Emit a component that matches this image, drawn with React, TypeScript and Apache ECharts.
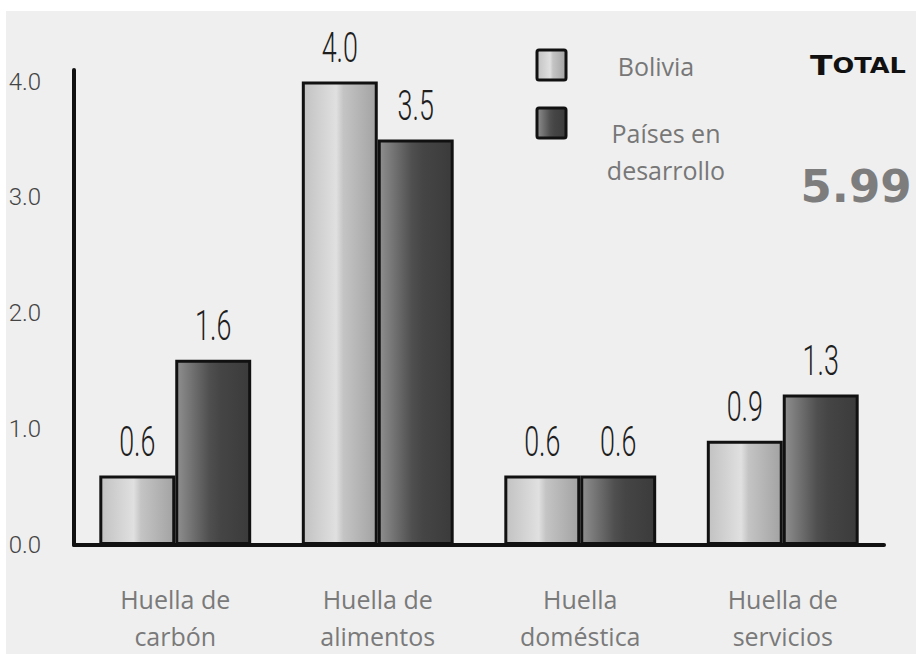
import React, { useEffect, useRef } from "react";
import * as echarts from "echarts";

const categories = ["Huella de\ncarbón", "Huella de\nalimentos", "Huella\ndoméstica", "Huella de\nservicios"];
const boliviaValues = [0.6, 4.0, 0.6, 0.9];
const developingValues = [1.6, 3.5, 0.6, 1.3];
const seriesNames = ["Bolivia", "Países en desarrollo"];
const yTicks = [0, 1, 2, 3, 4];
const totalTitle = ["T", "OTAL"];
const totalLabel = "5.99";

const thin = "Roboto, 'Noto Sans', sans-serif";
const sans = "'Open Sans', 'Noto Sans', sans-serif";
const CAT_GAP = 0.25;

const lightGrad = () =>
  new echarts.graphic.LinearGradient(0, 0, 1, 0, [
    { offset: 0, color: "#c2c2c2" },
    { offset: 0.45, color: "#e0e0e0" },
    { offset: 0.55, color: "#c4c4c4" },
    { offset: 1, color: "#a3a3a3" },
  ]);
const darkGrad = () =>
  new echarts.graphic.LinearGradient(0, 0, 1, 0, [
    { offset: 0, color: "#8f8f8f" },
    { offset: 0.45, color: "#4f4f4f" },
    { offset: 0.6, color: "#454545" },
    { offset: 1, color: "#3b3b3b" },
  ]);

function labelSeries(values: number[], side: number) {
  return {
    type: "custom",
    z: 5,
    silent: true,
    clip: false,
    data: values.map((v, i) => [i, v]),
    renderItem: (_params: any, api: any) => {
      const c = api.coord([api.value(0), api.value(1)]);
      const band = api.size([1, 0])[0];
      const barW = (band * (1 - CAT_GAP)) / 2;
      return {
        type: "text",
        x: c[0] + side * barW / 2,
        y: c[1] - 34,
        scaleX: 0.64,
        style: {
          text: Number(api.value(1)).toFixed(1),
          fontFamily: thin,
          fontWeight: 300,
          fontSize: 42,
          fill: "#1e1e1e",
          align: "center",
          verticalAlign: "middle",
        },
      };
    },
  };
}

export default function App() {
  const ref = useRef<HTMLDivElement>(null);
  useEffect(() => {
    document.body.style.margin = "0";
    if (!ref.current) return;
    const chart = echarts.init(ref.current, null, { renderer: "svg" });
    chart.setOption({
      animation: false,
      backgroundColor: "#ffffff",
      grid: { left: 74, right: 32, top: 70, bottom: 109, containLabel: false },
      xAxis: {
        type: "category",
        data: categories,
        axisLine: { lineStyle: { color: "#111", width: 4 } },
        axisTick: { show: false },
        axisLabel: {
          margin: 35,
          fontFamily: sans,
          fontSize: 25,
          lineHeight: 37,
          color: "#7a7a7a",
        },
      },
      yAxis: {
        type: "value",
        min: 0,
        max: 4.1,
        interval: 1,
        axisLine: { show: true, lineStyle: { color: "#111", width: 4 } },
        axisTick: { show: false },
        splitLine: { show: false },
        axisLabel: {
          margin: 33,
          align: "right",
          fontFamily: thin,
          fontWeight: 300,
          fontSize: 24,
          color: "#444",
          formatter: (v: number) => (yTicks.includes(v) ? v.toFixed(1) : ""),
        },
      },
      series: [
        {
          name: seriesNames[0],
          type: "bar",
          data: boliviaValues,
          barGap: "0%",
          barCategoryGap: CAT_GAP * 100 + "%",
          itemStyle: { color: lightGrad(), borderColor: "#111", borderWidth: 3 },
        },
        {
          name: seriesNames[1],
          type: "bar",
          data: developingValues,
          barGap: "0%",
          barCategoryGap: CAT_GAP * 100 + "%",
          itemStyle: { color: darkGrad(), borderColor: "#111", borderWidth: 3 },
        },
        labelSeries(boliviaValues, -1),
        labelSeries(developingValues, 1),
      ],
      graphic: [
        {
          type: "rect",
          z: -10,
          silent: true,
          shape: { x: 6, y: 11, width: 910, height: 643 },
          style: { fill: "#efefef" },
        },
        {
          type: "rect",
          shape: { x: 537, y: 50, width: 29, height: 30, r: 2 },
          style: { fill: lightGrad(), stroke: "#111", lineWidth: 3 },
        },
        {
          type: "rect",
          shape: { x: 537, y: 108, width: 29, height: 30, r: 2 },
          style: { fill: darkGrad(), stroke: "#111", lineWidth: 3 },
        },
        {
          type: "text",
          x: 656,
          y: 66,
          style: {
            text: seriesNames[0],
            fontFamily: sans,
            fontSize: 25,
            fill: "#777",
            align: "center",
            verticalAlign: "middle",
          },
        },
        {
          type: "text",
          x: 666,
          y: 151,
          style: {
            text: "Países en\ndesarrollo",
            fontFamily: sans,
            fontSize: 25,
            lineHeight: 37,
            fill: "#777",
            align: "center",
            verticalAlign: "middle",
          },
        },
        {
          type: "text",
          x: 858,
          y: 66,
          scaleX: 1.22,
          style: {
            text: `{a|${totalTitle[0]}}{b|${totalTitle[1]}}`,
            align: "center",
            verticalAlign: "middle",
            rich: {
              a: { fontFamily: "'DejaVu Sans', sans-serif", fontWeight: "bold", fontSize: 27, fill: "#111", color: "#111" },
              b: { fontFamily: "'DejaVu Sans', sans-serif", fontWeight: "bold", fontSize: 21, fill: "#111", color: "#111" },
            },
          },
        },
        {
          type: "text",
          x: 856,
          y: 186,
          style: {
            text: totalLabel,
            fontFamily: "'DejaVu Sans', sans-serif",
            fontWeight: "bold",
            fontSize: 45,
            fill: "#7d7d7d",
            align: "center",
            verticalAlign: "middle",
          },
        },
      ],
    });
    return () => chart.dispose();
  }, []);
  return <div ref={ref} style={{ width: 916, height: 654 }} />;
}
